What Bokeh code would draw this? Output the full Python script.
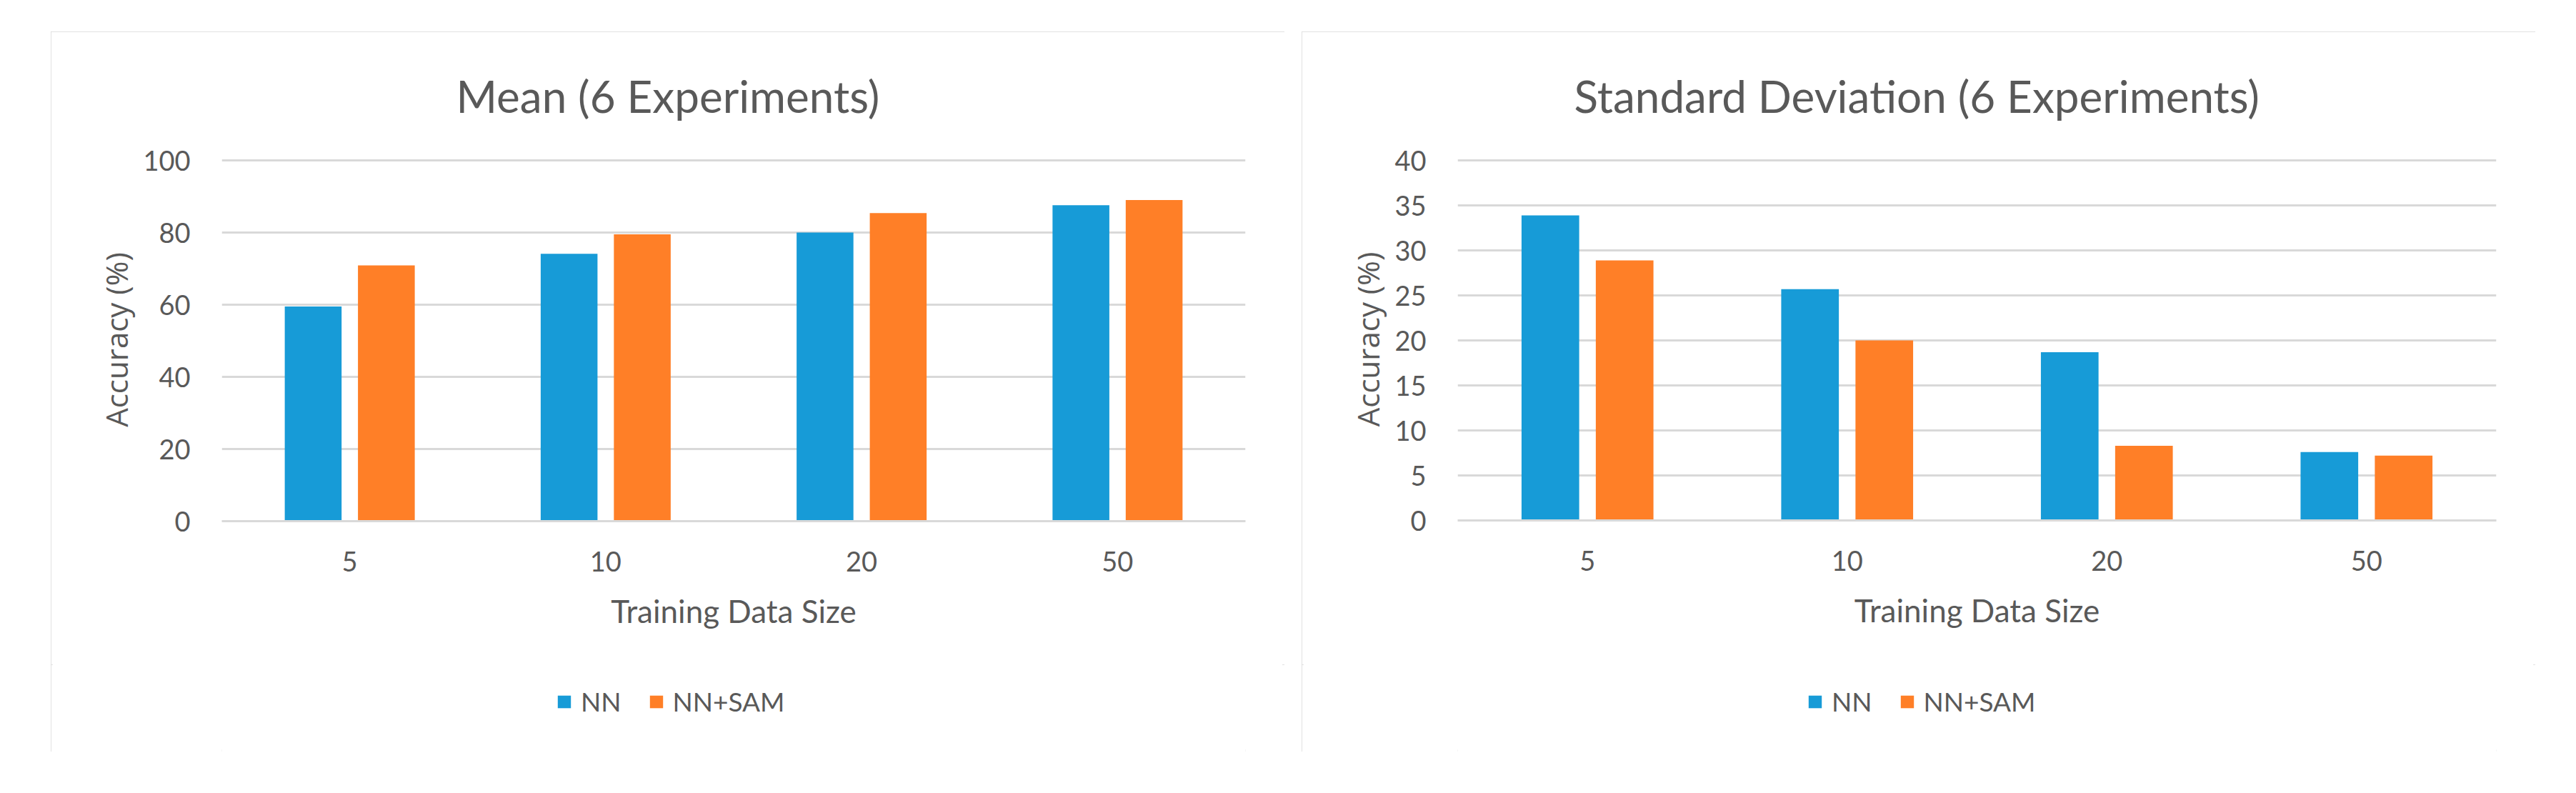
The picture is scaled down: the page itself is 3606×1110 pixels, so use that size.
from bokeh.plotting import figure
from bokeh.models import (FactorRange, Range1d, Title, Legend,
                          LegendItem, ColumnDataSource, FixedTicker)
from bokeh.transform import dodge
from bokeh.layouts import row, column
from bokeh.embed import file_html
from bokeh.resources import INLINE

# ---- data ----
sizes = ["5", "10", "20", "50"]
mean_nn = [59.5, 74.1, 80.0, 87.6]
mean_sam = [70.9, 79.5, 85.4, 89.0]
std_nn = [33.9, 25.7, 18.7, 7.6]
std_sam = [28.9, 20.0, 8.3, 7.2]
mean_ticks = [0, 20, 40, 60, 80, 100]
std_ticks = [0, 5, 10, 15, 20, 25, 30, 35, 40]
series_names = ["NN", "NN+SAM"]
titles = ["Mean (6 Experiments)", "Standard Deviation (6 Experiments)"]
x_title = "Training Data Size"
y_title = "Accuracy (%)"

BLUE = "#179BD7"
ORANGE = "#FF7F27"
GRID = "#D9D9D9"
TEXT = "#595959"
FONT = "Lato"

W = 1727
H_MAIN = 886
H_LEG = 122
BOX_STYLE = {"outline": "3px solid #D9D9D9", "outline-offset": "-3px"}


def make_panel(title, nn, sam, ticks, y_end, fl, fr, ft, fb, title_offset,
               legend_x, margin):
    src = ColumnDataSource(dict(x=sizes, nn=nn, sam=sam))
    p = figure(x_range=FactorRange(factors=sizes), y_range=Range1d(0, y_end),
               width=W, height=H_MAIN, output_backend="svg", toolbar_location=None,
               min_border_left=fl, min_border_right=fr,
               min_border_top=ft, min_border_bottom=fb)
    p.outline_line_color = None
    p.background_fill_color = "white"
    p.border_fill_color = "white"

    p.vbar(x=dodge("x", -0.143, range=p.x_range), top="nn", width=0.222,
           source=src, fill_color=BLUE, line_color=None)
    p.vbar(x=dodge("x", 0.143, range=p.x_range), top="sam", width=0.222,
           source=src, fill_color=ORANGE, line_color=None)

    p.xgrid.grid_line_color = None
    p.ygrid.grid_line_color = GRID
    p.ygrid.grid_line_width = 3
    p.yaxis.ticker = FixedTicker(ticks=ticks)

    p.yaxis.axis_line_color = None
    p.yaxis.major_tick_line_color = None
    p.yaxis.minor_tick_line_color = None
    p.yaxis.major_label_standoff = 38
    p.yaxis.major_label_text_font = FONT
    p.yaxis.major_label_text_font_size = "38px"
    p.yaxis.major_label_text_color = TEXT
    p.yaxis.axis_label = y_title
    p.yaxis.axis_label_text_font = "Open Sans"
    p.yaxis.axis_label_text_font_size = "42px"
    p.yaxis.axis_label_text_font_style = "normal"
    p.yaxis.axis_label_text_color = TEXT
    p.yaxis.axis_label_standoff = 6

    p.xaxis.axis_line_color = GRID
    p.xaxis.axis_line_width = 3
    p.xaxis.major_tick_line_color = None
    p.xaxis.minor_tick_line_color = None
    p.xaxis.major_label_standoff = 36
    p.xaxis.major_label_text_font = FONT
    p.xaxis.major_label_text_font_size = "38px"
    p.xaxis.major_label_text_color = TEXT
    p.xaxis.axis_label = x_title
    p.xaxis.axis_label_text_font = FONT
    p.xaxis.axis_label_text_font_size = "44px"
    p.xaxis.axis_label_text_font_style = "normal"
    p.xaxis.axis_label_text_color = TEXT
    p.xaxis.axis_label_standoff = 26

    p.add_layout(Title(text=title, align="left", offset=title_offset,
                       text_font=FONT, text_font_size="62px",
                       text_font_style="normal", text_color=TEXT,
                       standoff=101), "above")

    # legend strip below the chart (keys reuse the same data, not drawn)
    lg = figure(width=W, height=H_LEG, x_range=FactorRange(factors=sizes),
                y_range=Range1d(0, 1), min_border=0, output_backend="svg",
                toolbar_location=None, x_axis_type=None, y_axis_type=None)
    lg.outline_line_color = None
    lg.xgrid.grid_line_color = None
    lg.ygrid.grid_line_color = None
    k1 = lg.vbar(x="x", top="nn", width=0.2, source=src, fill_color=BLUE,
                 line_color=None, visible=False)
    k2 = lg.vbar(x="x", top="sam", width=0.2, source=src, fill_color=ORANGE,
                 line_color=None, visible=False)
    legend = Legend(items=[LegendItem(label=series_names[0], renderers=[k1]),
                           LegendItem(label=series_names[1], renderers=[k2])],
                    orientation="horizontal", location=(legend_x, 48),
                    glyph_width=23, glyph_height=22, label_standoff=12,
                    spacing=37, padding=0, margin=0,
                    border_line_color=None, background_fill_alpha=0,
                    inactive_fill_alpha=0,
                    label_text_font=FONT, label_text_font_size="37px",
                    label_text_color=TEXT)
    lg.add_layout(legend)
    return column(p, lg, spacing=0, margin=margin, styles=BOX_STYLE)


c1 = make_panel(titles[0], mean_nn, mean_sam, mean_ticks, 100.6,
                239, 55, 176, 201, 328, 468, (44, 0, 0, 71))
c2 = make_panel(titles[1], std_nn, std_sam, std_ticks, 40.25,
                218, 55, 174, 202, 163, 489, (44, 0, 0, 24))

layout = row(c1, c2, spacing=0)
open("out.html", "w").write(file_html(layout, INLINE))
